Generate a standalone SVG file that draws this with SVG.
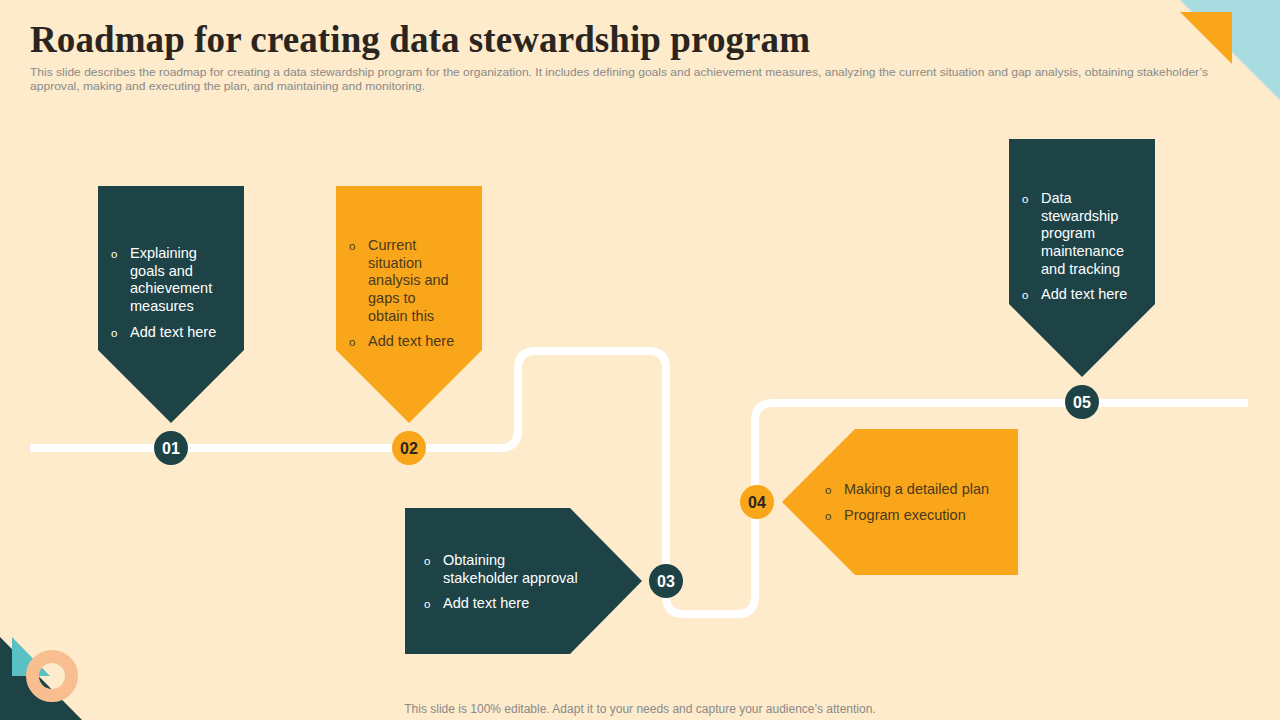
<svg xmlns="http://www.w3.org/2000/svg" width="1280" height="720" viewBox="0 0 1280 720">
<style>
.t{font-family:"Liberation Sans",Arial,sans-serif;font-size:14.5px}
.w{fill:#FFFFFF}
.d{fill:#4A3A1C}
.b{font-family:"Liberation Sans",Arial,sans-serif;font-size:11.5px}
.n{font-family:"Liberation Sans",Arial,sans-serif;font-size:16px;font-weight:bold;text-anchor:middle}
.teal{fill:#1E4347}
.org{fill:#F9A61A}
</style>
<rect width="1280" height="720" fill="#FDEBCB"/>
<polygon points="1180,0 1280,0 1280,100" fill="#A9DCE0"/>
<polygon points="1180,12 1232,12 1232,64" fill="#F9A61A"/>
<polygon points="0,637 82,720 0,720" fill="#1E4347"/>
<polygon points="12,637 12,676 50,676" fill="#5BC0C4"/>
<circle cx="52" cy="676" r="19.5" fill="none" stroke="#F8BE8F" stroke-width="13"/>
<text x="30" y="52" font-family="'Liberation Serif','Times New Roman',serif" font-size="37" font-weight="bold" fill="#2A2520" textLength="780" lengthAdjust="spacing">Roadmap for creating data stewardship program</text>
<text font-family="'Liberation Sans',Arial,sans-serif" font-size="11" fill="#8A8A8A">
<tspan x="30" y="76" textLength="1178" lengthAdjust="spacingAndGlyphs">This slide describes the roadmap for creating a data stewardship program for the organization. It includes defining goals and achievement measures, analyzing the current situation and gap analysis, obtaining stakeholder’s</tspan>
<tspan x="30" y="90" textLength="395" lengthAdjust="spacingAndGlyphs">approval, making and executing the plan, and maintaining and monitoring.</tspan>
</text>
<g id="connectors">
<path d="M30,448 H500 Q518,448 518,430 V369 Q518,351 536,351 H648 Q666,351 666,369 V596 Q666,614 684,614 H737 Q755,614 755,596 V421 Q755,403 773,403 H1248" fill="none" stroke="#FFFFFF" stroke-width="8"/>
</g>
<g id="node1">
<polygon class="teal" points="98,186 244,186 244,350 171,423 98,350"/>
<text class="b w" x="111" y="258">o</text><text class="b w" x="111" y="337">o</text>
<text class="t w"><tspan x="130" y="258">Explaining</tspan><tspan x="130" y="276">goals and</tspan><tspan x="130" y="293">achievement</tspan><tspan x="130" y="311">measures</tspan><tspan x="130" y="337">Add text here</tspan></text>
<circle class="teal" cx="171" cy="448" r="17"/>
<text class="n w" x="171" y="454">01</text>
</g>
<g id="node2">
<polygon class="org" points="336,186 482,186 482,350 409,423 336,350"/>
<text class="b d" x="349" y="250">o</text><text class="b d" x="349" y="346">o</text>
<text class="t d"><tspan x="368" y="250">Current</tspan><tspan x="368" y="268">situation</tspan><tspan x="368" y="285">analysis and</tspan><tspan x="368" y="303">gaps to</tspan><tspan x="368" y="321">obtain this</tspan><tspan x="368" y="346">Add text here</tspan></text>
<circle class="org" cx="409" cy="448" r="17"/>
<text class="n" fill="#2A2520" x="409" y="454">02</text>
</g>
<g id="node3">
<polygon class="teal" points="405,508 570,508 642,581 570,654 405,654"/>
<text class="b w" x="424" y="565">o</text><text class="b w" x="424" y="608">o</text>
<text class="t w"><tspan x="443" y="565">Obtaining</tspan><tspan x="443" y="583">stakeholder approval</tspan><tspan x="443" y="608">Add text here</tspan></text>
<circle class="teal" cx="666" cy="581" r="17"/>
<text class="n w" x="666" y="587">03</text>
</g>
<g id="node4">
<polygon class="org" points="855,429 1018,429 1018,575 855,575 782,502"/>
<text class="b d" x="825" y="494">o</text><text class="b d" x="825" y="520">o</text>
<text class="t d"><tspan x="844" y="494">Making  a detailed plan</tspan><tspan x="844" y="520">Program execution</tspan></text>
<circle class="org" cx="757" cy="502" r="17"/>
<text class="n" fill="#2A2520" x="757" y="508">04</text>
</g>
<g id="node5">
<polygon class="teal" points="1009,139 1155,139 1155,304 1082,377 1009,304"/>
<text class="b w" x="1022" y="203">o</text><text class="b w" x="1022" y="299">o</text>
<text class="t w"><tspan x="1041" y="203">Data</tspan><tspan x="1041" y="221">stewardship</tspan><tspan x="1041" y="238">program</tspan><tspan x="1041" y="256">maintenance</tspan><tspan x="1041" y="274">and tracking</tspan><tspan x="1041" y="299">Add text here</tspan></text>
<circle class="teal" cx="1082" cy="402" r="17"/>
<text class="n w" x="1082" y="408">05</text>
</g>
<text x="640" y="713" text-anchor="middle" font-family="'Liberation Sans',Arial,sans-serif" font-size="12" fill="#8A8A8A">This slide is 100% editable. Adapt it to your needs and capture your audience’s attention.</text>
</svg>
